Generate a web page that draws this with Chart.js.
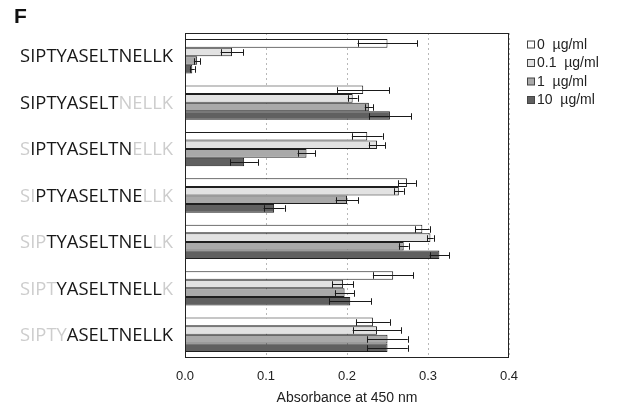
<!DOCTYPE html>
<html>
<head>
<meta charset="utf-8">
<script src="https://cdn.jsdelivr.net/npm/chart.js@4.4.1/dist/chart.umd.min.js"></script>
<style>
  html, body { margin: 0; padding: 0; background: #fff; }
  #wrap { width: 632px; height: 412px; position: relative; }
</style>
</head>
<body>
<div id="wrap"><canvas id="chart"></canvas></div>
<script>
// full peptide, and the part of it that each row highlights
const PEPTIDE = "SIPTYASELTNELLK";
const categories = ["SIPTYASELTNELLK", "SIPTYASELT", "IPTYASELTN", "PTYASELTNE", "TYASELTNEL", "YASELTNELL", "ASELTNELLK"];
const seriesLabels = ["0  \u00b5g/ml", "0.1  \u00b5g/ml", "1  \u00b5g/ml", "10  \u00b5g/ml"];

const dose0  = [0.250, 0.220, 0.225, 0.274, 0.293, 0.257, 0.232];
const dose01 = [0.058, 0.207, 0.237, 0.264, 0.303, 0.195, 0.237];
const dose1  = [0.015, 0.227, 0.150, 0.200, 0.270, 0.197, 0.250];
const dose10 = [0.009, 0.253, 0.073, 0.110, 0.314, 0.204, 0.250];

const err0  = [0.037, 0.032, 0.019, 0.011, 0.009, 0.025, 0.021];
const err01 = [0.014, 0.006, 0.010, 0.006, 0.004, 0.013, 0.030];
const err1  = [0.004, 0.005, 0.011, 0.014, 0.006, 0.012, 0.025];
const err10 = [0.003, 0.026, 0.017, 0.013, 0.012, 0.026, 0.025];

const xTicks = [0, 0.1, 0.2, 0.3, 0.4];

const FILLS = ["#ffffff", "#e2e2e2", "#a9a9a9", "#606060"];
const EDGE = "#1e1e1e";
const FONT = "'Liberation Sans', Arial, sans-serif";
const LABEL_FONT = "'Open Sans', 'Noto Sans', sans-serif";

const errorBars = {
  id: "errorBars",
  afterDatasetsDraw(chart) {
    const { ctx } = chart;
    const xs = chart.scales.x;
    ctx.save();
    ctx.strokeStyle = "#1a1a1a";
    ctx.lineWidth = 1;
    chart.data.datasets.forEach((ds, di) => {
      const meta = chart.getDatasetMeta(di);
      meta.data.forEach((bar, i) => {
        const v = ds.data[i], e = ds.errors[i];
        const lo = xs.getPixelForValue(v - e);
        const hi = xs.getPixelForValue(v + e);
        const y = Math.round(bar.y) + 0.5;
        const cap = bar.height * 0.38;
        ctx.beginPath();
        ctx.moveTo(lo, y); ctx.lineTo(hi, y);
        ctx.moveTo(Math.round(lo) + 0.5, y - cap); ctx.lineTo(Math.round(lo) + 0.5, y + cap);
        ctx.moveTo(Math.round(hi) + 0.5, y - cap); ctx.lineTo(Math.round(hi) + 0.5, y + cap);
        ctx.stroke();
      });
    });
    ctx.restore();
  }
};

const decorations = {
  id: "decorations",
  afterDraw(chart) {
    const { ctx, chartArea: a } = chart;
    const ys = chart.scales.y;
    ctx.save();

    // frame around the plot
    ctx.strokeStyle = "#222";
    ctx.lineWidth = 1;
    ctx.strokeRect(Math.round(a.left) + 0.5, Math.round(a.top) + 0.5,
      Math.round(a.right - a.left) - 1, Math.round(a.bottom - a.top) - 1);

    // panel letter
    ctx.fillStyle = "#111";
    ctx.font = "bold 21px " + FONT;
    ctx.textBaseline = "alphabetic";
    ctx.textAlign = "left";
    ctx.fillText("F", 14, 23);

    // row labels: highlighted window dark, rest of peptide faded
    ctx.font = "18.4px " + LABEL_FONT;
    ctx.textBaseline = "middle";
    const full = ctx.measureText(PEPTIDE).width;
    categories.forEach((core, i) => {
      const y = ys.getPixelForValue(i) + 1;
      const start = PEPTIDE.indexOf(core);
      const parts = [
        [PEPTIDE.slice(0, start), "#cdcdcd"],
        [core, "#181818"],
        [PEPTIDE.slice(start + core.length), "#cdcdcd"],
      ];
      let x = 173 - full;
      parts.forEach(([t, c]) => {
        ctx.fillStyle = c;
        ctx.fillText(t, x, y);
        x += ctx.measureText(t).width;
      });
    });

    // legend
    ctx.font = "14px " + FONT;
    ctx.textBaseline = "middle";
    seriesLabels.forEach((lab, i) => {
      const y = 45 + i * 18.5;
      ctx.fillStyle = FILLS[i];
      ctx.fillRect(527.5, y - 4, 7, 7);
      ctx.strokeStyle = "#444";
      ctx.strokeRect(527.5, y - 4, 7, 7);
      ctx.fillStyle = "#222";
      ctx.fillText(lab, 537, y);
    });
    ctx.restore();
  }
};

const values = [dose0, dose01, dose1, dose10];
const errors = [err0, err01, err1, err10];

new Chart(document.getElementById("chart"), {
  type: "bar",
  data: {
    labels: categories,
    datasets: seriesLabels.map((lab, i) => ({
      label: lab,
      data: values[i],
      errors: errors[i],
      backgroundColor: FILLS[i],
      borderColor: EDGE,
      borderWidth: 1,
      categoryPercentage: 0.74,
      barPercentage: 1.0,
    })),
  },
  options: {
    indexAxis: "y",
    responsive: true,
    maintainAspectRatio: false,
    animation: false,
    layout: { padding: { top: 33, right: 123, left: 0, bottom: 0 } },
    plugins: { legend: { display: false }, tooltip: { enabled: false } },
    scales: {
      y: {
        type: "category",
        ticks: { display: false },
        grid: { display: false },
        border: { display: false },
        afterFit: s => { s.width = 185; },
      },
      x: {
        min: 0, max: 0.4,
        afterBuildTicks: s => { s.ticks = xTicks.map(v => ({ value: v })); },
        ticks: {
          padding: 11,
          color: "#222",
          font: { size: 13, family: FONT },
          callback: v => Number(v).toFixed(1),
        },
        grid: { color: "#b8b8b8", drawTicks: false },
        border: { display: false, dash: [2, 3] },
        title: {
          display: true,
          text: "Absorbance at 450 nm",
          color: "#222",
          font: { size: 14, family: FONT },
          padding: { top: 0, bottom: 5 },
        },
        afterFit: s => { s.height = 54; },
      },
    },
  },
  plugins: [errorBars, decorations],
});
</script>
</body>
</html>
